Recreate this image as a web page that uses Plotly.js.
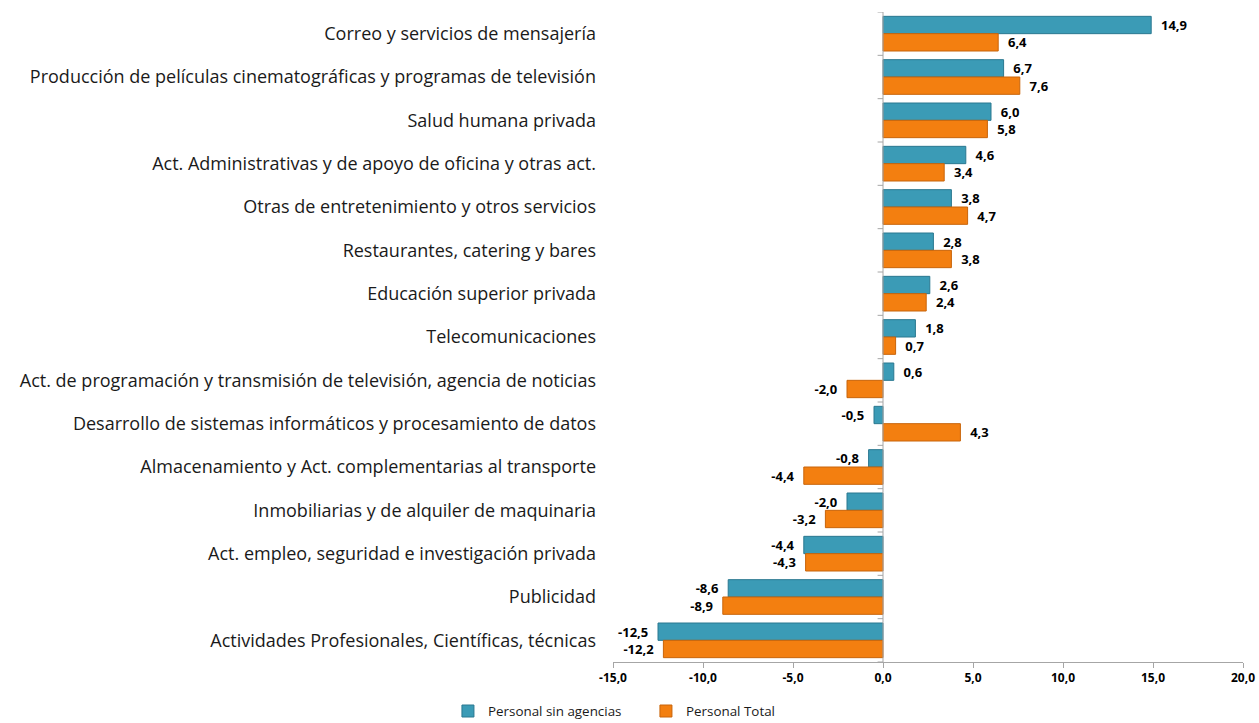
<!DOCTYPE html>
<html><head><meta charset="utf-8">
<script src="https://cdn.plot.ly/plotly-3.0.1.min.js"></script>
<style>body{margin:0;background:#fff}#chart{width:1259px;height:723px}</style>
</head><body><div id="chart"></div>
<script>
const categories = [
  "Correo y servicios de mensajería",
  "Producción de películas cinematográficas y programas de televisión",
  "Salud humana privada",
  "Act. Administrativas y de apoyo de oficina y otras act.",
  "Otras de entretenimiento y otros servicios",
  "Restaurantes, catering y bares",
  "Educación superior privada",
  "Telecomunicaciones",
  "Act. de programación y transmisión de televisión, agencia de noticias",
  "Desarrollo de sistemas informáticos y procesamiento de datos",
  "Almacenamiento y Act. complementarias al transporte",
  "Inmobiliarias y de alquiler de maquinaria",
  "Act. empleo, seguridad e investigación privada",
  "Publicidad",
  "Actividades Profesionales, Científicas, técnicas"
];
const sinAgencias = [14.9, 6.7, 6.0, 4.6, 3.8, 2.8, 2.6, 1.8, 0.6, -0.5, -0.8, -2.0, -4.4, -8.6, -12.5];
const total = [6.4, 7.6, 5.8, 3.4, 4.7, 3.8, 2.4, 0.7, -2.0, 4.3, -4.4, -3.2, -4.3, -8.9, -12.2];
const seriesNames = ["Personal sin agencias", "Personal Total"];
const xTicks = [-15, -10, -5, 0, 5, 10, 15, 20];

const FONT = "'Open Sans', sans-serif";
const fmt = v => v.toFixed(1).replace(".", ",");
const NB = "\u00a0\u00a0";
const labelText = arr => arr.map(v => v >= 0 ? NB + "<b>" + fmt(v) + "</b>" : "<b>" + fmt(v) + "</b>" + NB);
const labelFont = {family: FONT, size: 13, color: "#000"};

const traces = [
  {type: "bar", orientation: "h", name: seriesNames[0], y: categories, x: sinAgencias,
   marker: {color: "#3b9bb6", line: {color: "#2a7890", width: 1}},
   text: labelText(sinAgencias), texttemplate: "%{text}", textposition: "outside", cliponaxis: false,
   textfont: labelFont, constraintext: "none"},
  {type: "bar", orientation: "h", name: seriesNames[1], y: categories, x: total,
   marker: {color: "#f37f10", line: {color: "#c8640a", width: 1}},
   text: labelText(total), texttemplate: "%{text}", textposition: "outside", cliponaxis: false,
   textfont: labelFont, constraintext: "none"}
];

const shapes = [{type: "line", xref: "x", yref: "y", x0: 0, x1: 0, y0: -0.5, y1: categories.length - 0.5,
  line: {color: "#a6a6a6", width: 1}}];
for (let i = 0; i <= categories.length; i++) {
  shapes.push({type: "line", xref: "x", yref: "y", x0: -0.3, x1: 0, y0: i - 0.5, y1: i - 0.5,
    line: {color: "#a6a6a6", width: 1}});
}

const layout = {
  width: 1259, height: 723,
  margin: {l: 613, r: 16, t: 12, b: 61, autoexpand: false},
  separators: ",.",
  barmode: "group", bargap: 0.2, bargroupgap: 0,
  paper_bgcolor: "#fff", plot_bgcolor: "#fff",
  font: {family: FONT, color: "#000"},
  xaxis: {range: [-15, 20], tickvals: xTicks, ticktext: xTicks.map(v => "<b>" + fmt(v) + "</b>"),
    showgrid: false, zeroline: false,
    showline: true, linecolor: "#a6a6a6", ticks: "outside", ticklen: 5, tickcolor: "#a6a6a6",
    tickfont: {family: FONT, size: 12, color: "#000"}},
  yaxis: {type: "category", range: [categories.length - 0.5, -0.5], showgrid: false, zeroline: false,
    showline: false, ticks: "", ticklabelstandoff: 16,
    tickfont: {family: FONT, size: 18, color: "#1a1a1a"}},
  showlegend: true,
  legend: {orientation: "h", xref: "container", yref: "paper", x: 0.3558, xanchor: "left",
    y: -0.052, yanchor: "top", entrywidth: 153, entrywidthmode: "pixels",
    font: {family: FONT, size: 13.4, color: "#1a1a1a"}, traceorder: "normal"},
  shapes: shapes
};

Plotly.newPlot("chart", traces, layout, {displayModeBar: false, staticPlot: true});
</script></body></html>
